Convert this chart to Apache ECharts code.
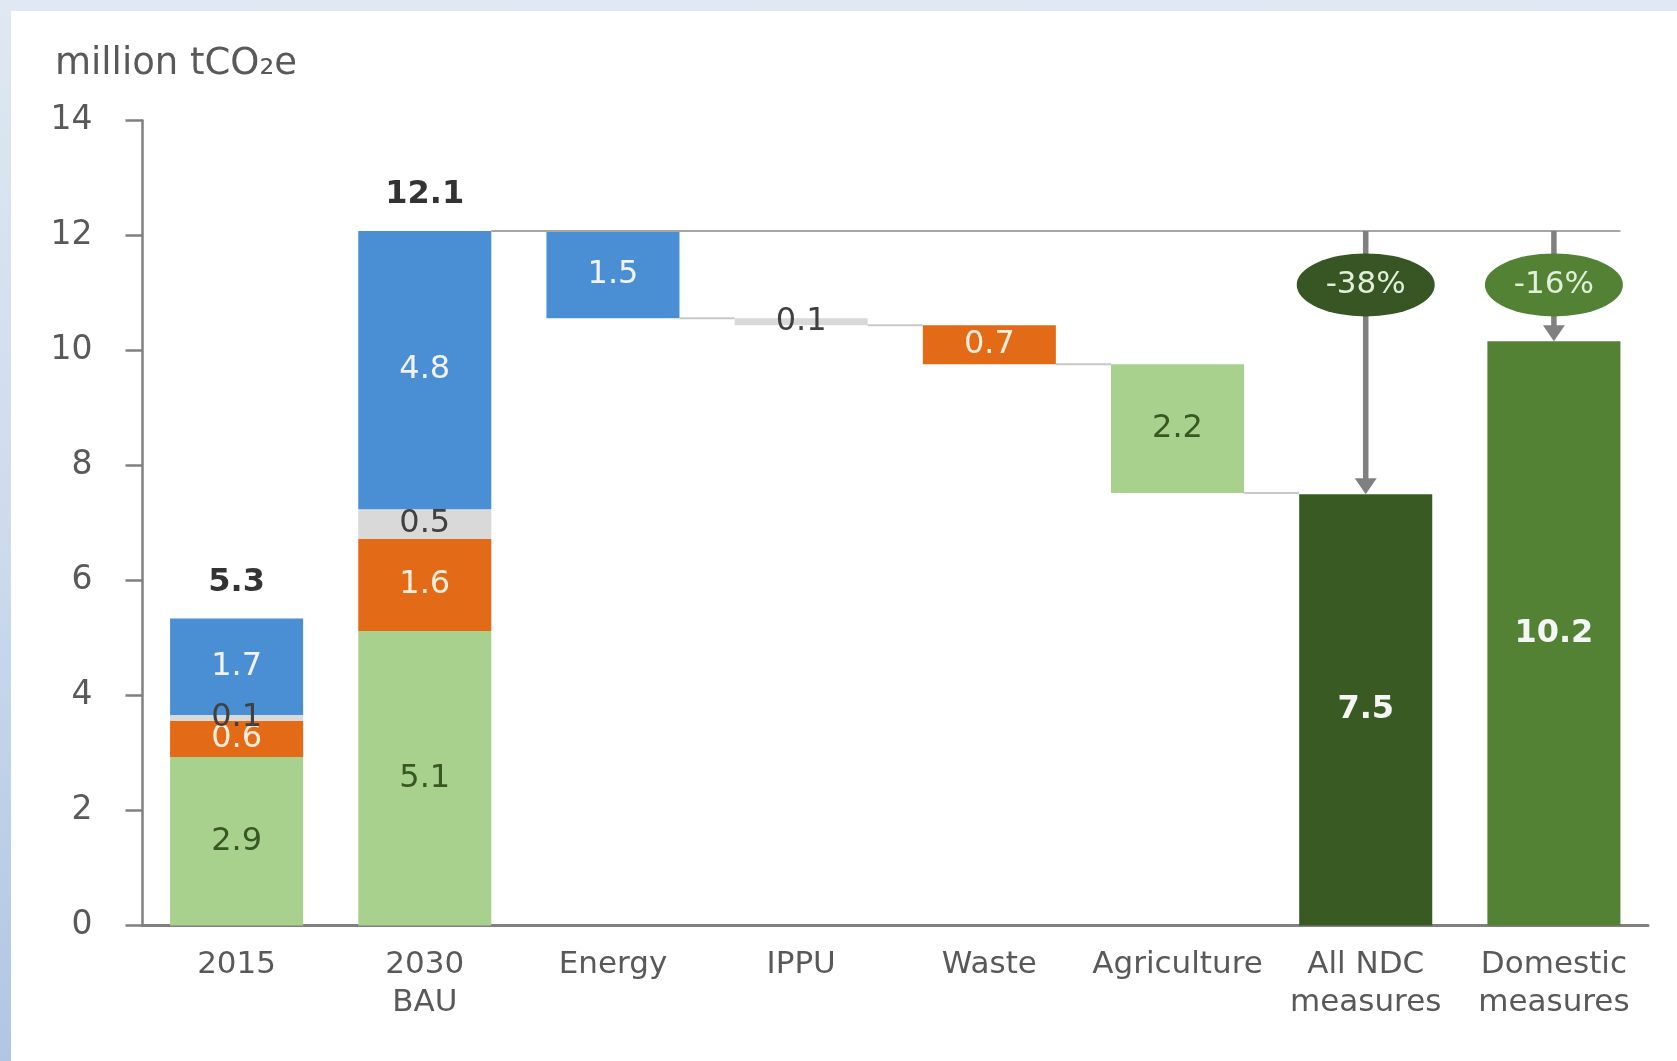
<!DOCTYPE html>
<html><head><meta charset="utf-8">
<script src="https://cdn.jsdelivr.net/npm/echarts@6/dist/echarts.min.js"></script>
<style>
html,body{margin:0;padding:0;width:1677px;height:1061px;overflow:hidden;background:linear-gradient(to bottom,#dfe8f3 0%,#cddbed 50%,#b0c6e3 100%);}
#panel{position:absolute;left:11px;top:11px;right:0;bottom:0;background:#fff;}
#chart{position:absolute;left:0;top:0;width:1677px;height:1061px;}
</style></head><body><div id="panel"></div><div id="chart"></div>
<script>
// ---- data ----
const categories = ['2015', '2030\nBAU', 'Energy', 'IPPU', 'Waste', 'Agriculture', 'All NDC\nmeasures', 'Domestic\nmeasures'];
const agriculture = [2.93, 5.12, null, null, null, 2.24, null, null];
const waste       = [0.63, 1.60, null, null, 0.68, null, null, null];
const ippu        = [0.10, 0.52, null, 0.12, null, null, null, null];
const energy      = [1.68, 4.84, 1.52, null, null, null, null, null];
const allNdc      = [null, null, null, null, null, null, 7.50, null];
const domestic    = [null, null, null, null, null, null, null, 10.16];
const reductionLabels = ['-38%', '-16%'];
const unitLabel = 'million tCO\u2082e';
const yMin = 0, yMax = 14, yInterval = 2;

// ---- derived ----
const sectors = [agriculture, waste, ippu, energy];
const totals = categories.map((_, i) => (i < 2 ? sectors.reduce((s, a) => s + (a[i] || 0), 0) : null));
const bauTotal = totals[1];
const base = categories.map(() => null);
let level = bauTotal;
for (let i = 2; i <= 5; i++) {
  const r = sectors.reduce((s, a) => s + (a[i] || 0), 0);
  level -= r;
  base[i] = level;
}
// connectors: [fromCat, toCat, level, mode]  mode 0: right edge -> left edge, 1: right edge -> right edge
const connectors = [];
for (let i = 2; i <= 5; i++) connectors.push([i, i + 1, base[i], 0]);
connectors.push([1, 7, bauTotal, 1]);
// arrows: [cat, fromLevel, toLevel]
const arrows = [[6, bauTotal, allNdc[6]], [7, bauTotal, domestic[7]]];

const BAR_RATIO = 0.707;
const FONT = '"DejaVu Sans", sans-serif';
const fmt = p => (p.value == null ? '' : Number(p.value).toFixed(1));
const ellipseColors = ['#375623', '#548235'];

function barSeries(name, data, color, labelColor, bold) {
  return {
    name, type: 'bar', stack: 'all', data, barWidth: (BAR_RATIO * 100) + '%',
    itemStyle: { color },
    label: { show: true, position: 'inside', formatter: fmt, color: labelColor, fontSize: 32,
             fontWeight: bold ? 'bold' : 'normal', fontFamily: FONT },
    emphasis: { disabled: true }, z: 3
  };
}

function renderConnector(params, api) {
  const from = api.value(0), to = api.value(1), lvl = api.value(2), mode = api.value(3);
  const half = api.size([1, 0])[0] * BAR_RATIO / 2;
  const p1 = api.coord([from, lvl]), p2 = api.coord([to, lvl]);
  const x1 = p1[0] + half;
  const x2 = mode === 1 ? p2[0] + half : p2[0] - half;
  return { type: 'line', shape: { x1: x1, y1: p1[1], x2: x2, y2: p2[1] },
           style: { stroke: mode === 1 ? '#a6a6a6' : '#c8c8c8', lineWidth: 2 } };
}

function renderArrow(params, api) {
  const cat = api.value(0), from = api.value(1), to = api.value(2);
  const pTop = api.coord([cat, from]), pBot = api.coord([cat, to]);
  const x = pTop[0];
  const headH = 16, headW = 22;
  const ey = pTop[1] + 54;
  const rY = 31.5, rX = 69;
  return { type: 'group', children: [
    { type: 'line', shape: { x1: x, y1: pTop[1], x2: x, y2: pBot[1] - headH + 1 },
      style: { stroke: '#808080', lineWidth: 5.5 } },
    { type: 'polygon', shape: { points: [[x - headW / 2, pBot[1] - headH], [x + headW / 2, pBot[1] - headH], [x, pBot[1]]] },
      style: { fill: '#808080' } },
    { type: 'circle', x: x, y: ey, scaleX: rX / rY, shape: { cx: 0, cy: 0, r: rY },
      style: { fill: ellipseColors[params.dataIndex] } },
    { type: 'text', x: x, y: ey,
      style: { text: reductionLabels[params.dataIndex], fill: '#e2efda', font: '31px "DejaVu Sans", sans-serif',
               textAlign: 'center', textVerticalAlign: 'middle', align: 'center', verticalAlign: 'middle' } }
  ] };
}

const chart = echarts.init(document.getElementById('chart'), null, { renderer: 'canvas' });
chart.setOption({
  animation: false,
  backgroundColor: 'transparent',
  textStyle: { fontFamily: FONT },
  title: { text: unitLabel, left: 50, top: 41,
           textStyle: { fontSize: 37, fontWeight: 'normal', color: '#595959', fontFamily: FONT } },
  grid: { left: 142.5, right: 29, top: 120.5, bottom: 135.5, containLabel: false, outerBoundsMode: 'none' },
  xAxis: {
    type: 'category', data: categories,
    axisLine: { show: true, lineStyle: { color: '#808080', width: 3 } },
    axisTick: { show: false },
    axisLabel: { interval: 0, margin: 21, fontSize: 31, lineHeight: 37.5, color: '#595959', fontFamily: FONT }
  },
  yAxis: {
    type: 'value', min: yMin, max: yMax, interval: yInterval,
    axisLine: { show: true, lineStyle: { color: '#808080', width: 2.5 } },
    axisTick: { show: true, inside: false, length: 17, lineStyle: { color: '#808080', width: 2.5 } },
    splitLine: { show: false },
    axisLabel: { margin: 50, fontSize: 33, color: '#595959', fontFamily: FONT }
  },
  series: [
    { name: 'base', type: 'bar', stack: 'all', data: base, barWidth: (BAR_RATIO * 100) + '%',
      itemStyle: { color: 'rgba(0,0,0,0)' }, label: { show: false }, silent: true, emphasis: { disabled: true } },
    barSeries('Agriculture', agriculture, '#a9d18e', '#385723', false),
    barSeries('Waste', waste, '#e36a17', '#fdefdc', false),
    barSeries('IPPU', ippu, '#d9d9d9', '#404040', false),
    barSeries('Energy', energy, '#4a8fd4', '#f2f2f2', false),
    barSeries('All NDC measures', allNdc, '#3a5a24', '#f5f5f5', true),
    barSeries('Domestic measures', domestic, '#548235', '#f5f5f5', true),
    { name: 'total', type: 'scatter', data: totals, symbolSize: 0, silent: true,
      label: { show: true, position: 'top', distance: 20, formatter: fmt, color: '#000000',
               fontSize: 32, fontWeight: 'bold', fontFamily: FONT }, z: 5 },
    { name: 'connectors', type: 'custom', data: connectors, renderItem: renderConnector, silent: true,
      dimensions: ['from', 'to', 'level', 'mode'], encode: { x: 0, y: 2 }, z: 4 },
    { name: 'arrows', type: 'custom', data: arrows, renderItem: renderArrow, silent: true,
      dimensions: ['cat', 'from', 'to'], encode: { x: 0, y: 1 }, z: 6 }
  ]
});
</script></body></html>
